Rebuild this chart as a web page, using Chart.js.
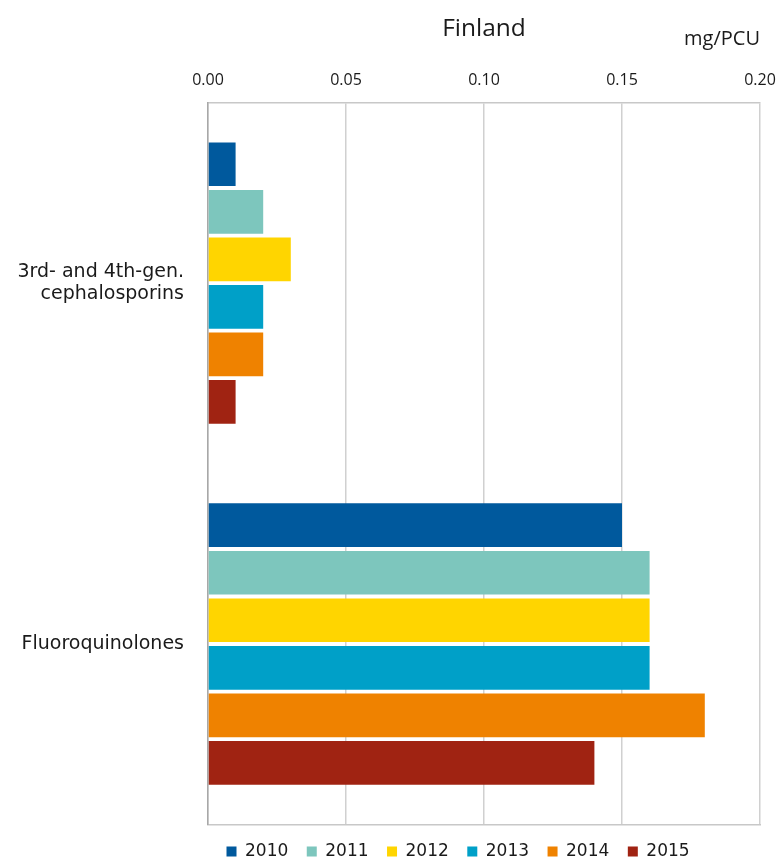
<!DOCTYPE html>
<html>
<head>
<meta charset="utf-8">
<script src="https://cdn.jsdelivr.net/npm/chart.js@4/dist/chart.umd.min.js"></script>
<style>
  html, body { margin: 0; padding: 0; background: #ffffff; overflow: hidden; }
  #wrap { width: 778px; height: 870px; }
</style>
</head>
<body>
<div id="wrap"><canvas id="c" width="778" height="870"></canvas></div>
<script>
const categories = [["3rd- and 4th-gen.", "cephalosporins"], "Fluoroquinolones"];
const years = ["2010", "2011", "2012", "2013", "2014", "2015"];
const values2010 = [0.01, 0.15];
const values2011 = [0.02, 0.16];
const values2012 = [0.03, 0.16];
const values2013 = [0.02, 0.16];
const values2014 = [0.02, 0.18];
const values2015 = [0.01, 0.14];
const tickValues = [0.00, 0.05, 0.10, 0.15, 0.20];
const chartTitle = "Finland";
const unitLabel = "mg/PCU";

const seriesValues = [values2010, values2011, values2012, values2013, values2014, values2015];
const colors = ["#00599d", "#7dc6bd", "#ffd500", "#00a0c8", "#ef8200", "#a02312"];

const datasets = years.map((y, i) => ({
  label: y,
  data: seriesValues[i],
  backgroundColor: colors[i],
  borderWidth: 0,
  categoryPercentage: 0.79,
  barPercentage: 0.92
}));

Chart.defaults.color = "#1a1a1a";

new Chart(document.getElementById("c"), {
  type: "bar",
  data: { labels: categories, datasets },
  options: {
    indexAxis: "y",
    responsive: false,
    animation: false,
    layout: { padding: { left: 0, right: 18, top: 0, bottom: 0 } },
    plugins: {
      title: {
        display: true,
        fullSize: false,
        text: chartTitle,
        font: { family: "'Open Sans'", size: 24.5, weight: "normal" },
        color: "#1a1a1a",
        padding: { top: 14.3, bottom: -23.7 },
        align: "center"
      },
      legend: {
        position: "bottom",
        align: "start",
        fullSize: false,
        labels: {
          boxWidth: 10,
          boxHeight: 10,
          padding: 18.5,
          font: { family: "'DejaVu Sans'", size: 17 },
          color: "#1a1a1a"
        }
      },
      tooltip: { enabled: false }
    },
    scales: {
      x: {
        type: "linear",
        position: "top",
        min: 0,
        max: 0.2,
        afterBuildTicks: (scale) => { scale.ticks = tickValues.map(v => ({ value: v })); },
        afterFit: (scale) => { scale.paddingRight = 0; },
        ticks: {
          padding: 13,
          font: { family: "'Open Sans'", size: 16 },
          color: "#1a1a1a",
          callback: (v) => Number(v).toFixed(2)
        },
        grid: { color: "#d0d0d0", lineWidth: 1.5, drawTicks: false },
        border: { display: true, color: "#c8c8c8", width: 1.5 },
        title: {
          display: true,
          text: unitLabel,
          align: "end",
          font: { family: "'Open Sans'", size: 20 },
          color: "#1a1a1a",
          padding: { top: 7, bottom: 6.4 }
        }
      },
      x2: {
        type: "linear",
        position: "bottom",
        min: 0,
        max: 0.2,
        ticks: { display: false },
        grid: { display: false, drawTicks: false },
        border: { display: true, color: "#c8c8c8", width: 1.5 }
      },
      y: {
        type: "category",
        afterFit: (scale) => { scale.width = 208; scale.paddingTop = 0; scale.paddingBottom = 0; },
        ticks: {
          padding: 24,
          font: { family: "'DejaVu Sans'", size: 19, lineHeight: 1.2 },
          color: "#1a1a1a"
        },
        grid: { display: false, drawTicks: false },
        border: { display: true, color: "#a8a8a8", width: 1.5 }
      }
    }
  }
});
</script>
</body>
</html>
